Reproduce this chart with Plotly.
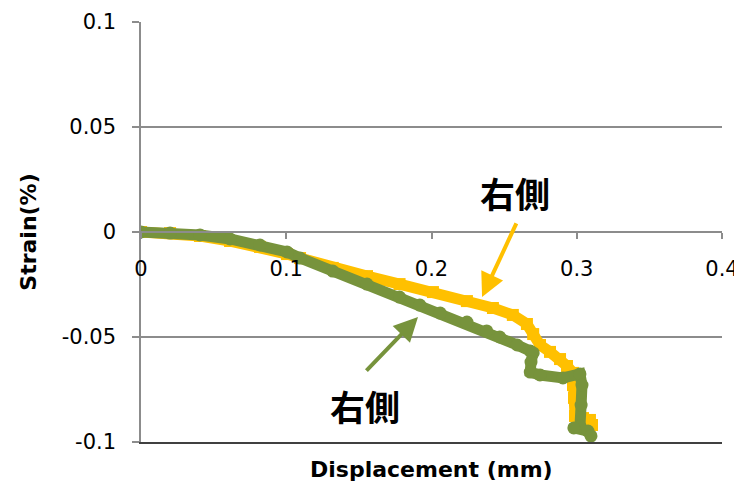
import plotly.graph_objects as go

# Yellow series (右側)
yellow_x = [0.0, 0.020, 0.0406, 0.0613, 0.0819, 0.1005, 0.1095, 0.132, 0.1556, 0.178, 0.201, 0.2244,
            0.2423, 0.256, 0.2657, 0.270, 0.2747, 0.2816, 0.2885, 0.2933, 0.2974, 0.2974, 0.2981,
            0.2988, 0.3043, 0.3091, 0.3105]
yellow_y = [0.0, -0.0005, -0.0019, -0.0043, -0.0071, -0.0105, -0.0124, -0.0171, -0.021, -0.0248,
            -0.0286, -0.0329, -0.0362, -0.0395, -0.0438, -0.0486, -0.0538, -0.0571, -0.0605, -0.0638,
            -0.0671, -0.0729, -0.079, -0.0876, -0.0886, -0.0895, -0.0919]

# Green series (右側)
green_x = [0.0, 0.020, 0.0406, 0.0613, 0.0819, 0.1005, 0.1095, 0.132, 0.1556, 0.178, 0.192, 0.206,
           0.2244, 0.238, 0.247, 0.259, 0.268, 0.270, 0.2685, 0.268, 0.2747, 0.2905, 0.3022, 0.3036,
           0.303, 0.3022, 0.298, 0.3077, 0.3098]
green_y = [0.0, -0.0005, -0.0014, -0.0033, -0.0062, -0.0095, -0.0124, -0.0186, -0.0248, -0.031,
           -0.0348, -0.0386, -0.0429, -0.0471, -0.05, -0.0538, -0.0567, -0.0576, -0.0619, -0.0667,
           -0.0681, -0.0695, -0.0676, -0.0729, -0.0824, -0.0924, -0.0933, -0.0948, -0.0971]

x_ticks = [0, 0.1, 0.2, 0.3, 0.4]
x_tick_labels = ["0", "0.1", "0.2", "0.3", "0.4"]
y_ticks = [-0.1, -0.05, 0, 0.05, 0.1]
y_tick_labels = ["-0.1", "-0.05", "0", "0.05", "0.1"]

label_text = "右側"
# callouts: text position, arrow head, arrow tail (data units)
yellow_label = (0.2575, 0.0186)
yellow_arrow_head = (0.2348, -0.031)
yellow_arrow_tail = (0.2589, 0.0048)
green_label = (0.1542, -0.0824)
green_arrow_head = (0.1907, -0.0405)
green_arrow_tail = (0.1542, -0.0667)

YELLOW = "#FFC000"
GREEN = "#77933C"
TICK_FONT = dict(family="DejaVu Sans, sans-serif", size=21, color="#000000")
TITLE_FONT = dict(family="DejaVu Sans, sans-serif", size=22, color="#000000", weight="bold")
GRID = "#8C8C8C"

fig = go.Figure()
fig.add_trace(go.Scatter(x=yellow_x, y=yellow_y, mode="lines+markers",
                         line=dict(color=YELLOW, width=11),
                         marker=dict(symbol="square", size=12, color=YELLOW),
                         showlegend=False, hoverinfo="skip"))
fig.add_trace(go.Scatter(x=green_x, y=green_y, mode="lines+markers",
                         line=dict(color=GREEN, width=11),
                         marker=dict(symbol="circle", size=13, color=GREEN),
                         showlegend=False, hoverinfo="skip"))
# helper trace for bottom frame axis
fig.add_trace(go.Scatter(x=[None], y=[None], xaxis="x2", yaxis="y", showlegend=False, hoverinfo="skip"))

anns = []
for (tx, ty), (hx, hy), (ax_, ay_), col in [
        (yellow_label, yellow_arrow_head, yellow_arrow_tail, YELLOW),
        (green_label, green_arrow_head, green_arrow_tail, GREEN)]:
    anns.append(dict(x=tx, y=ty, xref="x", yref="y", text=label_text, showarrow=False,
                     font=dict(family="Noto Sans CJK KR", size=35, color="#000000", weight="bold")))
    anns.append(dict(x=hx, y=hy, xref="x", yref="y", ax=ax_, ay=ay_, axref="x", ayref="y",
                     text="", showarrow=True, arrowhead=2, arrowsize=1.2, arrowwidth=4,
                     arrowcolor=col, standoff=0, startstandoff=0))
anns.append(dict(x=0.5, y=-0.066, xref="paper", yref="paper", text="Displacement (mm)",
                 showarrow=False, xanchor="center", yanchor="middle", font=TITLE_FONT))
anns.append(dict(x=-0.195, y=0.5, xref="paper", yref="paper", text="Strain(%)",
                 showarrow=False, textangle=-90, xanchor="center", yanchor="middle",
                 font=TITLE_FONT))

# the page body adds an 8px offset, so the figure is sized to fit the window
fig.update_layout(
    width=734, height=478,
    margin=dict(l=133, r=20, t=14, b=44, autoexpand=False),
    paper_bgcolor="white", plot_bgcolor="white",
    xaxis=dict(range=[0, 0.4], tickvals=x_ticks, ticktext=x_tick_labels,
               anchor="free", position=0.5, showline=True, linecolor=GRID, linewidth=1.5,
               ticks="outside", ticklen=6, tickcolor=GRID, tickwidth=1.5, automargin=False,
               showgrid=False, zeroline=False, tickfont=TICK_FONT, ticklabelstandoff=12),
    xaxis2=dict(range=[0, 0.4], overlaying="x", anchor="y", side="bottom", automargin=False,
                showline=True, linecolor="#404040", linewidth=2, showticklabels=False,
                ticks="", showgrid=False, zeroline=False),
    yaxis=dict(range=[-0.1, 0.1], tickvals=y_ticks, ticktext=y_tick_labels, automargin=False,
               showline=True, linecolor=GRID, linewidth=1.5,
               ticks="outside", ticklen=7, tickcolor=GRID, tickwidth=1.5,
               showgrid=True, gridcolor=GRID, gridwidth=1.5, zeroline=False,
               tickfont=TICK_FONT, ticklabelstandoff=12),
    annotations=anns,
)

fig.write_html("out.html")
